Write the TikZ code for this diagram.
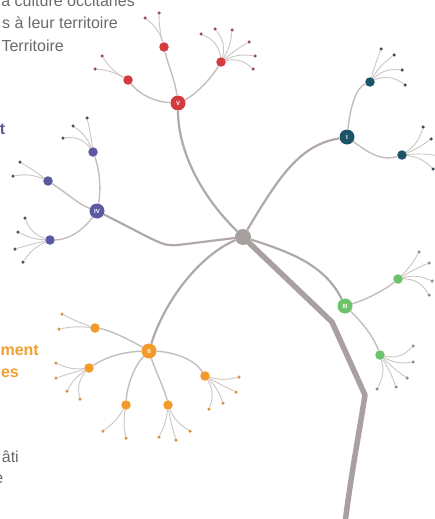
\documentclass[tikz,border=0pt]{standalone}
\usepackage{fontspec}
\newfontfamily\lab{Liberation Sans}
\definecolor{hubc}{HTML}{A79F9E}
\definecolor{trunkc}{HTML}{A9A1A0}
\definecolor{branchc}{HTML}{B0A9A7}
\definecolor{twigc}{HTML}{C4BEBC}
\definecolor{leafc}{HTML}{CCC6C4}
\definecolor{redc}{HTML}{D43B3F}
\definecolor{redleaf}{HTML}{9B4D55}
\definecolor{tealc}{HTML}{1D5468}
\definecolor{tealleaf}{HTML}{34505A}
\definecolor{purc}{HTML}{5B5AA0}
\definecolor{purleaf}{HTML}{4F4E6E}
\definecolor{orac}{HTML}{F29B2A}
\definecolor{oraleaf}{HTML}{D89440}
\definecolor{grec}{HTML}{6DC36B}
\definecolor{greleaf}{HTML}{7D9A7D}
\definecolor{textgrey}{HTML}{6A6A6A}
\definecolor{textpur}{HTML}{5A5A9A}
\definecolor{textora}{HTML}{F0A030}
\tikzset{
 mainnode/.style={circle, minimum size=15pt, inner sep=0pt, text=white, font=\lab\bfseries\fontsize{6}{6}\selectfont},
 subnode/.style={circle, minimum size=9.5pt, inner sep=0pt},
 leafdot/.style={circle, minimum size=3.5pt, inner sep=0pt},
 trunkline/.style={line width=5.5pt, draw=trunkc, line join=round, line cap=round},
 branchline/.style={line width=2.2pt, draw=branchc},
 twigline/.style={line width=1.4pt, draw=twigc},
 leafline/.style={line width=0.9pt, draw=leafc},
 sidetext/.style={font=\lab\fontsize{16}{18}\selectfont, inner sep=0pt, anchor=base east},
}
\newcommand\lfL[5]{\node[leafdot,fill=#5] (#2) at (#3) {}; \draw[leafline] (#1) to[bend left=#4] (#2);}
\newcommand\lfR[5]{\node[leafdot,fill=#5] (#2) at (#3) {}; \draw[leafline] (#1) to[bend right=#4] (#2);}
\begin{document}
\begin{tikzpicture}[x=1pt,y=1pt]
\useasboundingbox[fill=white] (0,0) rectangle (435,-519);

% side texts
\node[sidetext, text=textgrey] (txa) at (135,-7) {a culture occitanes};
\node[sidetext, text=textgrey] (txb) at (118,-29) {s à leur territoire};
\node[sidetext, text=textgrey] (txc) at (64,-52) {Territoire};
\node[sidetext, text=textpur, font=\lab\bfseries\fontsize{16}{18}\selectfont] (txd) at (5.5,-134) {t};
\node[sidetext, text=textora, font=\lab\bfseries\fontsize{16}{18}\selectfont] (txe) at (39,-355) {ment};
\node[sidetext, text=textora, font=\lab\bfseries\fontsize{16}{18}\selectfont] (txf) at (19,-377) {es};
\node[sidetext, text=textgrey] (txg) at (19,-462) {âti};
\node[sidetext, text=textgrey] (txh) at (3.5,-483) {e};

% hub and main nodes
\node[circle, fill=hubc, minimum size=16pt, inner sep=0pt] (hub) at (243,-237) {};
\node[mainnode, fill=redc] (V) at (178,-103) {V};
\node[mainnode, fill=tealc] (I) at (347,-137) {I};
\node[mainnode, fill=purc] (IV) at (97,-211) {IV};
\node[mainnode, fill=orac] (II) at (149,-351) {II};
\node[mainnode, fill=grec] (III) at (345,-306) {III};

% trunk
\coordinate (tk1) at (332,-322);
\coordinate (tk2) at (365,-395);
\coordinate (tkend) at (344,-532);
\draw[trunkline] (hub) -- (tk1) -- (tk2) .. controls (358,-440) and (350,-480) .. (tkend);

% main branches
\draw[branchline] (hub) .. controls (200,-195) and (178,-150) .. (V);
\draw[branchline] (hub) .. controls (280,-175) and (300,-145) .. (I);
\draw[branchline] (hub) -- (178,-245) .. controls (162,-247) and (155,-240) .. (IV);
\draw[branchline] (hub) .. controls (200,-255) and (165,-300) .. (II);
\draw[branchline] (hub) .. controls (290,-252) and (325,-265) .. (III);

% ---- red V
\node[subnode, fill=redc] (s1) at (128,-80) {};
\node[subnode, fill=redc] (s2) at (164,-47) {};
\node[subnode, fill=redc] (s3) at (221,-62) {};
\draw[twigline] (V) .. controls (155,-102) and (140,-95) .. (s1);
\draw[twigline] (V) .. controls (175,-80) and (168,-65) .. (s2);
\draw[twigline] (V) .. controls (195,-95) and (210,-80) .. (s3);
\lfL{s1}{s1a}{102,-56}{13}{redleaf}
\lfR{s1}{s1b}{95,-69}{12}{redleaf}
\lfR{s2}{s2a}{145,-18}{18}{redleaf}
\lfL{s2}{s2b}{159,-13}{7}{redleaf}
\lfR{s3}{s3a}{201,-34}{30}{redleaf}
\lfR{s3}{s3b}{215,-29}{27}{redleaf}
\lfR{s3}{s3c}{232,-30}{13}{redleaf}
\lfL{s3}{s3d}{249,-42}{5}{redleaf}
\lfL{s3}{s3e}{255,-56}{17}{redleaf}
\lfL{s3}{s3f}{253,-69}{28}{redleaf}

% ---- teal I
\node[subnode, fill=tealc] (t1) at (370,-82) {};
\node[subnode, fill=tealc] (t2) at (402,-155) {};
\draw[twigline] (I) .. controls (350,-110) and (355,-88) .. (t1);
\draw[twigline] (I) .. controls (365,-150) and (380,-162) .. (t2);
\lfL{t1}{t1a}{381,-49}{2}{tealleaf}
\lfL{t1}{t1b}{394,-55}{11}{tealleaf}
\lfL{t1}{t1c}{402,-70}{25}{tealleaf}
\lfL{t1}{t1d}{405,-85}{30}{tealleaf}
\lfR{t2}{t2a}{423,-127}{19}{tealleaf}
\lfR{t2}{t2b}{431,-139}{7}{tealleaf}
\lfL{t2}{t2c}{440,-156}{7}{tealleaf}
\lfL{t2}{t2d}{433,-169}{19}{tealleaf}

% ---- green III
\node[subnode, fill=grec] (g1) at (398,-279) {};
\node[subnode, fill=grec] (g2) at (380,-355) {};
\draw[twigline] (III) .. controls (365,-300) and (385,-290) .. (g1);
\draw[twigline] (III) .. controls (365,-325) and (375,-340) .. (g2);
\lfR{g1}{g1a}{419,-252}{8}{greleaf}
\lfL{g1}{g1b}{429,-263}{4}{greleaf}
\lfL{g1}{g1c}{432,-281}{19}{greleaf}
\lfL{g1}{g1d}{429,-295}{30}{greleaf}
\lfR{g2}{g2a}{413,-346}{30}{greleaf}
\lfR{g2}{g2b}{413,-362}{19}{greleaf}
\lfR{g2}{g2c}{407,-378}{5}{greleaf}
\lfL{g2}{g2d}{396,-387}{6}{greleaf}
\lfL{g2}{g2e}{377,-389}{22}{greleaf}

% ---- purple IV
\node[subnode, fill=purc] (p1) at (93,-152) {};
\node[subnode, fill=purc] (p2) at (48,-181) {};
\node[subnode, fill=purc] (p3) at (50,-240) {};
\draw[twigline] (IV) .. controls (102,-185) and (98,-165) .. (p1);
\draw[twigline] (IV) .. controls (80,-205) and (65,-192) .. (p2);
\draw[twigline] (IV) .. controls (85,-228) and (70,-240) .. (p3);
\lfR{p1}{p1a}{87,-118}{3}{purleaf}
\lfR{p1}{p1b}{73,-126}{16}{purleaf}
\lfR{p1}{p1c}{63,-138}{30}{purleaf}
\lfR{p2}{p2a}{20,-162}{3}{purleaf}
\lfR{p2}{p2b}{13,-176}{16}{purleaf}
\lfL{p3}{p3a}{25,-218}{25}{purleaf}
\lfL{p3}{p3b}{18,-232}{12}{purleaf}
\lfR{p3}{p3c}{15,-249}{2}{purleaf}
\lfR{p3}{p3d}{23,-262}{15}{purleaf}

% ---- orange II
\node[subnode, fill=orac] (o1) at (95,-328) {};
\node[subnode, fill=orac] (o2) at (89,-368) {};
\node[subnode, fill=orac] (o3) at (126,-405) {};
\node[subnode, fill=orac] (o4) at (168,-405) {};
\node[subnode, fill=orac] (o5) at (205,-376) {};
\draw[twigline] (II) .. controls (130,-340) and (110,-330) .. (o1);
\draw[twigline] (II) .. controls (120,-352) and (105,-358) .. (o2);
\draw[twigline] (II) .. controls (135,-365) and (127,-385) .. (o3);
\draw[twigline] (II) .. controls (155,-370) and (165,-390) .. (o4);
\draw[twigline] (II) .. controls (175,-352) and (195,-360) .. (o5);
\lfL{o1}{o1a}{62,-314}{4}{oraleaf}
\lfR{o1}{o1b}{59,-329}{8}{oraleaf}
\lfL{o2}{o2a}{56,-363}{15}{oraleaf}
\lfR{o2}{o2b}{56,-378}{1}{oraleaf}
\lfR{o2}{o2c}{67,-391}{13}{oraleaf}
\lfR{o2}{o2d}{80,-399}{27}{oraleaf}
\lfL{o3}{o3a}{103,-431}{11}{oraleaf}
\lfR{o3}{o3b}{126,-438}{10}{oraleaf}
\lfL{o4}{o4a}{159,-437}{10}{oraleaf}
\lfR{o4}{o4b}{176,-440}{4}{oraleaf}
\lfR{o4}{o4c}{190,-431}{17}{oraleaf}
\lfR{o5}{o5a}{239,-377}{14}{oraleaf}
\lfR{o5}{o5b}{236,-392}{2}{oraleaf}
\lfL{o5}{o5c}{223,-403}{13}{oraleaf}
\lfL{o5}{o5d}{209,-409}{26}{oraleaf}
\end{tikzpicture}
\end{document}
